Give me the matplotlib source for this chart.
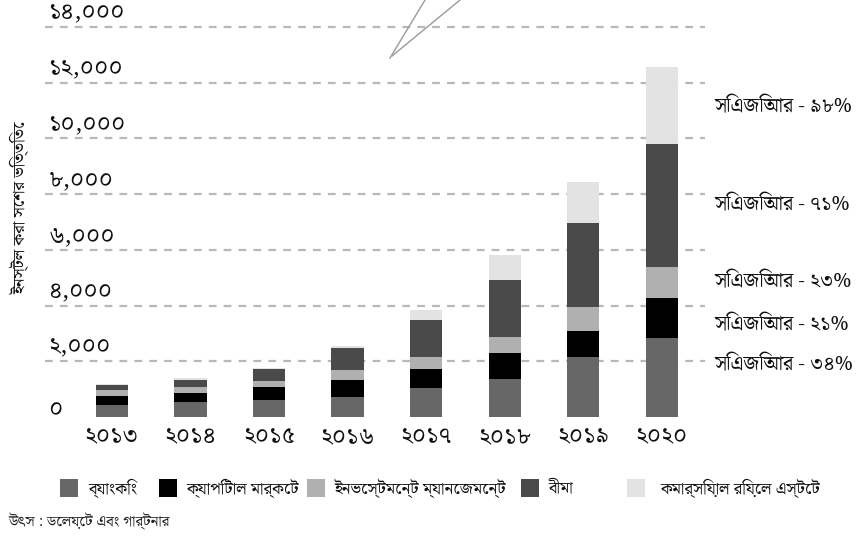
import matplotlib
matplotlib.use("Agg")
import matplotlib.pyplot as plt
from matplotlib import font_manager as fm
from matplotlib.ft2font import FT2Font
from matplotlib.patches import Rectangle
from matplotlib.lines import Line2D
import numpy as np

# ---------------- data ----------------
years = ['২০১৩', '২০১৪', '২০১৫', '২০১৬', '২০১৭', '২০১৮', '২০১৯', '২০২০']
banking = [430, 540, 610, 720, 1040, 1370, 2160, 2840]
capital_market = [320, 320, 470, 610, 680, 935, 935, 1440]
investment = [215, 215, 215, 360, 430, 575, 860, 1115]
insurance = [180, 250, 430, 790, 1330, 2050, 3020, 4390]
commercial = [40, 70, 40, 70, 360, 900, 1475, 2770]

series_names = ['ব্যাংকিং', 'ক্যাপিটাল মার্কেট', 'ইনভেস্টমেন্ট ম্যানেজমেন্ট', 'বীমা',
                'কমার্সিয়াল রিয়েল এস্টেট']
series_colors = ['#676767', '#000000', '#b0b0b0', '#4a4a4a', '#e3e3e3']

ytick_values = [0, 2000, 4000, 6000, 8000, 10000, 12000, 14000]
ytick_labels = ['০', '২,০০০', '৪,০০০', '৬,০০০', '৮,০০০', '১০,০০০', '১২,০০০', '১৪,০০০']

cagr_labels = ['সিএজিআর - ৯৮%', 'সিএজিআর - ৭১%', 'সিএজিআর - ২৩%', 'সিএজিআর - ২১%',
               'সিএজিআর - ৩৪%']
cagr_y = [11130, 7610, 4850, 3300, 1870]

ylabel = 'ইনস্টল করা সেশর ভিত্তিতে'
source = 'উৎস : ডেলয়েট এবং গার্টনার'

# ---------------- fonts ----------------
def find_bengali_font():
    best = None
    for f in fm.fontManager.ttflist:
        try:
            cmap = FT2Font(f.fname).get_charmap()
        except Exception:
            continue
        if 0x0995 in cmap and 0x09E8 in cmap:
            if best is None or 'Noto' in f.name:
                best = f.name
    return best

bn = find_bengali_font()
fams = ([bn] if bn else []) + ['DejaVu Sans']
plt.rcParams['font.family'] = fams

W, H = 868, 537
fig = plt.figure(figsize=(W / 100, H / 100), dpi=100)

def fx(px):
    return px / W

def fy(py):
    return 1 - py / H

# axes: x from 45 to 705 px, y zero at 417 px, 14000 at 27 px
ax = fig.add_axes([fx(45), fy(417), fx(705) - fx(45), fy(27) - fy(417)])
ax.set_xlim(-0.852, 7.55)
ax.set_ylim(0, 14000)
ax.axis('off')

x = np.arange(len(years))
bottom = np.zeros(len(years))
for vals, col in zip([banking, capital_market, investment, insurance, commercial], series_colors):
    ax.bar(x, vals, width=0.41, bottom=bottom, color=col, zorder=2, linewidth=0)
    bottom += np.array(vals)

# dashed gridlines
for v in ytick_values[1:]:
    ax.plot([0, 1], [v, v], transform=ax.get_yaxis_transform(), color='#b8b8b8',
            lw=1.6, linestyle=(0, (3.5, 3.2)), zorder=1, clip_on=False)

# y tick labels above lines
for v, lab in zip(ytick_values, ytick_labels):
    off = 9.7 if v > 0 else 5.0
    ax.annotate(lab, xy=(0.005, v), xycoords=ax.get_yaxis_transform(),
                xytext=(0, off), textcoords='offset points',
                ha='left', va='center', fontsize=17, color='#111111')

# x tick labels
for xi, lab in zip(x, years):
    ax.annotate(lab, xy=(xi, 0), xycoords='data', xytext=(0, -15), textcoords='offset points',
                ha='center', va='center', fontsize=17, color='#111111', annotation_clip=False)

# CAGR labels
for lab, yv in zip(cagr_labels, cagr_y):
    ax.text(1.015, yv, lab, transform=ax.get_yaxis_transform(), ha='left', va='center',
            fontsize=14.5, color='#111111')

# y-axis label
fig.text(fx(20), fy(208), ylabel, rotation=90, ha='center', va='center', fontsize=12,
         color='#111111')

# legend (manual)
leg_x = [58, 157, 305, 519, 625]
leg_tx = [89, 187, 335, 549, 661]
for lx, tx, name, col in zip(leg_x, leg_tx, series_names, series_colors):
    fig.patches.append(Rectangle((fx(lx + 2), fy(497)), fx(18), fy(479) - fy(497),
                                 transform=fig.transFigure, facecolor=col, edgecolor='none'))
    fig.text(fx(tx), fy(488), name, ha='left', va='center', fontsize=12, color='#111111')

# source
fig.text(fx(8), fy(522), source, ha='left', va='center', fontsize=10.8, style='italic',
         color='#222222')

# decorative pointer strokes at top
fig.add_artist(Line2D([fx(425), fx(390)], [fy(0), fy(58)], transform=fig.transFigure,
                      color='#9a9a9a', lw=1.0))
fig.add_artist(Line2D([fx(460), fx(392)], [fy(0), fy(56)], transform=fig.transFigure,
                      color='#9a9a9a', lw=1.0))

fig.savefig('out.png', dpi=100)
